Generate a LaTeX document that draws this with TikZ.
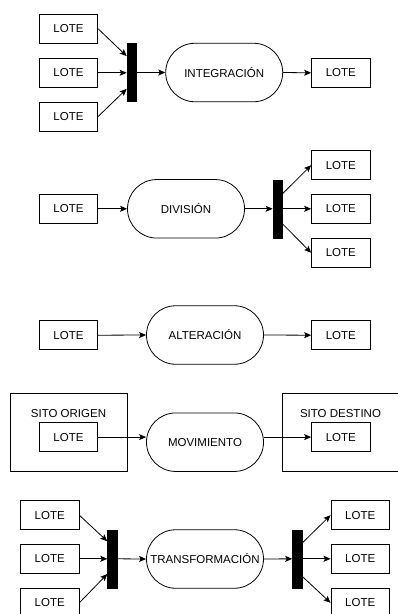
\documentclass[tikz,border=0pt]{standalone}
\usepackage{fontspec}
\setmainfont{Liberation Sans}
\usetikzlibrary{arrows.meta,calc}
\tikzset{
  lote/.style={draw,line width=0.8pt,minimum width=58.5pt,minimum height=29pt,inner sep=0pt,font=\fontsize{11.5}{13}\selectfont},
  pill/.style={draw,line width=0.8pt,minimum width=117pt,minimum height=58.5pt,inner sep=0pt,rounded corners=29.2pt,font=\fontsize{11.5}{13}\selectfont},
  bar/.style={fill=black,draw=black,line width=0.5pt,minimum width=9.5pt,minimum height=58pt,inner sep=0pt},
  sito/.style={draw,line width=0.8pt,inner sep=0pt},
  lbl/.style={inner sep=0pt,font=\fontsize{11.5}{13}\selectfont},
  arr/.style={line width=0.8pt,-{Stealth[length=7pt,width=6pt,inset=1.5pt]}}
}
\begin{document}
\begin{tikzpicture}[x=1pt,y=-1pt]
\useasboundingbox (0,0) rectangle (398,614);
\clip (0,0) rectangle (398,614);
\fill[white] (0,0) rectangle (398,614);
% Section 1: integracion
\node[lote] (a1) at (68.5,28.8) {LOTE};
\node[lote] (a2) at (68.5,72.8) {LOTE};
\node[lote] (a3) at (68.5,116.5) {LOTE};
\node[bar] (bar1) at (131.7,72.5) {};
\node[pill] (int) at (224.2,72.5) {INTEGRACIÓN};
\node[lote] (a4) at (340.8,72.8) {LOTE};
\coordinate (b1t) at ($(bar1.north west)!0.22!(bar1.south west)$);
\coordinate (b1b) at ($(bar1.north west)!0.78!(bar1.south west)$);
\draw[arr] (a1.east) -- (b1t);
\draw[arr] (a2.east) -- (a2.east -| bar1.west);
\draw[arr] (a3.east) -- (b1b);
\draw[arr] (bar1.east) -- (int.west);
\draw[arr] (int.east) -- (a4.west);
% Section 2: division
\node[lote] (b1) at (68.5,208.8) {LOTE};
\node[pill] (div) at (186,208.8) {DIVISIÓN};
\node[bar] (bar2) at (277.7,208.8) {};
\node[lote] (b2) at (340.8,165.2) {LOTE};
\node[lote] (b3) at (340.8,208.8) {LOTE};
\node[lote] (b4) at (340.8,252.8) {LOTE};
\coordinate (b2t) at ($(bar2.north east)!0.24!(bar2.south east)$);
\coordinate (b2b) at ($(bar2.north east)!0.76!(bar2.south east)$);
\draw[arr] (b1.east) -- (div.west);
\draw[arr] (div.east) -- (bar2.west);
\draw[arr] (b2t) -- (b2.west);
\draw[arr] (bar2.east) -- (b3.west);
\draw[arr] (b2b) -- (b4.west);
% Section 3: alteracion
\node[lote] (c1) at (68.5,335.2) {LOTE};
\node[pill] (alt) at (205,335) {ALTERACIÓN};
\node[lote] (c2) at (340.8,335.2) {LOTE};
\draw[arr] (c1.east) -- (alt.west);
\draw[arr] (alt.east) -- (c2.west);
% Section 4: movimiento
\node[sito,minimum width=117pt,minimum height=78.4pt] (orig) at (68.5,432.5) {};
\node[sito,minimum width=115.3pt,minimum height=77.4pt] (dest) at (340.35,432.3) {};
\node[lbl] (origl) at (68.5,413.5) {SITO ORIGEN};
\node[lbl] (destl) at (340.5,413.5) {SITO DESTINO};
\node[lote] (d1) at (68.5,437.1) {LOTE};
\node[pill] (mov) at (205,442.2) {MOVIMIENTO};
\node[lote] (d2) at (340.8,437.1) {LOTE};
\draw[arr] (d1.east) -- (d1.east -| mov.west);
\draw[arr] (d1.east -| mov.east) -- (d2.west);
% Section 5: transformacion
\node[lote] (e1) at (49.7,515.2) {LOTE};
\node[lote] (e2) at (49.7,558.8) {LOTE};
\node[lote] (e3) at (49.7,602.8) {LOTE};
\node[bar] (bar3) at (112.3,558.8) {};
\node[pill] (tra) at (205,559) {TRANSFORMACIÓN};
\node[bar] (bar4) at (297.2,558.8) {};
\node[lote] (e4) at (360.2,515.2) {LOTE};
\node[lote] (e5) at (360.2,558.8) {LOTE};
\node[lote] (e6) at (360.2,602.8) {LOTE};
\coordinate (b3t) at ($(bar3.north west)!0.2!(bar3.south west)$);
\coordinate (b3b) at ($(bar3.north west)!0.76!(bar3.south west)$);
\coordinate (b4t) at ($(bar4.north east)!0.23!(bar4.south east)$);
\coordinate (b4b) at ($(bar4.north east)!0.8!(bar4.south east)$);
\draw[arr] (e1.east) -- (b3t);
\draw[arr] (e2.east) -- (e2.east -| bar3.west);
\draw[arr] (e3.east) -- (b3b);
\draw[arr] (bar3.east) -- (tra.west);
\draw[arr] (tra.east) -- (bar4.west);
\draw[arr] (b4t) -- (e4.west);
\draw[arr] (bar4.east) -- (e5.west);
\draw[arr] (b4b) -- (e6.west);
\end{tikzpicture}
\end{document}
